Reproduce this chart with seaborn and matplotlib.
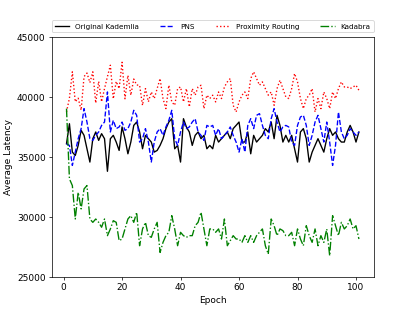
import numpy as np
import pandas as pd
import seaborn as sns
import matplotlib
matplotlib.use("Agg")
import matplotlib.pyplot as plt
from matplotlib.ticker import MultipleLocator

# Average latency per epoch for the four routing variants
epochs = list(range(1, 102))

original_kademlia = [
    36100, 37770, 35400, 35120, 35960, 37220, 36800, 35680, 34570, 36520,
    37080, 36380, 36940, 36520, 33800, 36520, 36800, 36240, 35540, 37500,
    36520, 35260, 36240, 37630, 37910, 37080, 35680, 36800, 36520, 36240,
    35400, 35540, 35960, 36520, 37360, 37910, 38190, 35680, 35960, 34570,
    38190, 37500, 37080, 35960, 36800, 37080, 36520, 36800, 35680, 35960,
    35680, 36800, 36240, 36520, 36800, 37080, 36520, 37360, 37630, 37910,
    36240, 36240, 37080, 35260, 36800, 36240, 36520, 36800, 37360, 37080,
    37910, 36520, 38470, 37630, 36240, 36800, 36240, 36800, 35680, 34570,
    37080, 37360, 36520, 34570, 35400, 35960, 36520, 35960, 35400, 36520,
    37360, 36800, 37080, 36520, 36240, 36240, 37080, 37630, 37080, 36240,
    37080,
]

pns = [
    36100, 35960, 34290, 35400, 36520, 37360, 39030, 37910, 36520, 36380,
    36800, 37080, 37630, 37910, 40420, 37080, 38050, 37360, 37500, 37910,
    37220, 37360, 37910, 38890, 38470, 36240, 36520, 37360, 36240, 34570,
    36240, 37080, 37360, 36800, 37500, 38050, 38890, 36520, 35960, 37080,
    37910, 37360, 37500, 37910, 38190, 37080, 36800, 36380, 37630, 37500,
    37630, 36800, 37360, 36520, 36800, 37080, 37500, 36800, 36240, 35400,
    36520, 35400, 37630, 38190, 37360, 38470, 38610, 37630, 36800, 36520,
    38190, 39030, 37910, 37080, 37500, 37630, 37500, 36240, 35960, 37630,
    38330, 38470, 37630, 35960, 36800, 37910, 38470, 37360, 36240, 37910,
    36240, 34290, 35960, 38750, 37080, 36520, 36800, 37360, 37080, 36800,
    37080,
]

proximity_routing = [
    38750, 39900, 42100, 39600, 39900, 38900, 41700, 42000, 41200, 42100,
    39500, 41300, 39600, 40700, 41700, 42650, 39850, 41300, 40700, 42900,
    39850, 41800, 40150, 41500, 41000, 40980, 39300, 40700, 39600, 40420,
    39870, 40700, 41540, 39870, 39030, 40980, 39590, 39310, 40700, 40840,
    39590, 40700, 39170, 40700, 40150, 40840, 40980, 39030, 40150, 39870,
    40150, 39590, 40420, 39870, 40840, 41260, 41540, 39310, 38750, 39590,
    40150, 40420, 39870, 41540, 42100, 41540, 40980, 41260, 40700, 40150,
    40420, 39310, 40700, 41400, 40700, 40010, 39870, 40700, 41960, 41260,
    39870, 39030, 39870, 40150, 40700, 38750, 39870, 39030, 40420, 39870,
    39030, 40420, 39870, 40700, 41260, 40840, 40840, 40700, 40840, 40980,
    40560,
]

kadabra = [
    39030, 33170, 32610, 29820, 32050, 30660, 32330, 32610, 29820, 29540,
    29820, 29540, 29130, 29820, 28430, 28990, 29680, 29540, 28010, 28150,
    28990, 29820, 30100, 29540, 30380, 27590, 28990, 29540, 28430, 28290,
    28990, 29540, 27030, 27870, 28430, 28710, 30100, 28990, 27590, 28710,
    28430, 28290, 28430, 28430, 29260, 29540, 30380, 28990, 27590, 28990,
    28990, 28710, 28990, 28150, 29820, 27590, 28010, 28430, 28150, 28150,
    27870, 28430, 27870, 28430, 27870, 28430, 28710, 28990, 27590, 26890,
    29820, 29260, 28430, 28990, 28850, 28430, 28430, 28710, 27590, 28990,
    28150, 27590, 29260, 28430, 27870, 28990, 27590, 28430, 27870, 28990,
    26750, 30100, 29260, 28430, 29540, 28990, 29260, 29820, 28990, 29260,
    28150,
]

series = [
    ("Original Kademlia", original_kademlia, "black", "-"),
    ("PNS", pns, "blue", "--"),
    ("Proximity Routing", proximity_routing, "red", ":"),
    ("Kadabra", kadabra, "green", "-."),
]

fig, ax = plt.subplots(figsize=(6.4, 4.8), dpi=64.85)

for name, values, color, ls in series:
    sns.lineplot(x=epochs, y=values, ax=ax, color=color, linestyle=ls,
                 linewidth=1.5, label=name)

ax.set_ylim(25000, 45000)
ax.yaxis.set_major_locator(MultipleLocator(5000))
ax.set_xlabel("Epoch")
ax.set_ylabel("Average Latency")

ax.legend(bbox_to_anchor=(0, 1.02, 1, 0.102), loc="lower left", ncol=4,
          mode="expand", borderaxespad=0, fontsize=8)

fig.savefig("out.png", dpi=64.85)
